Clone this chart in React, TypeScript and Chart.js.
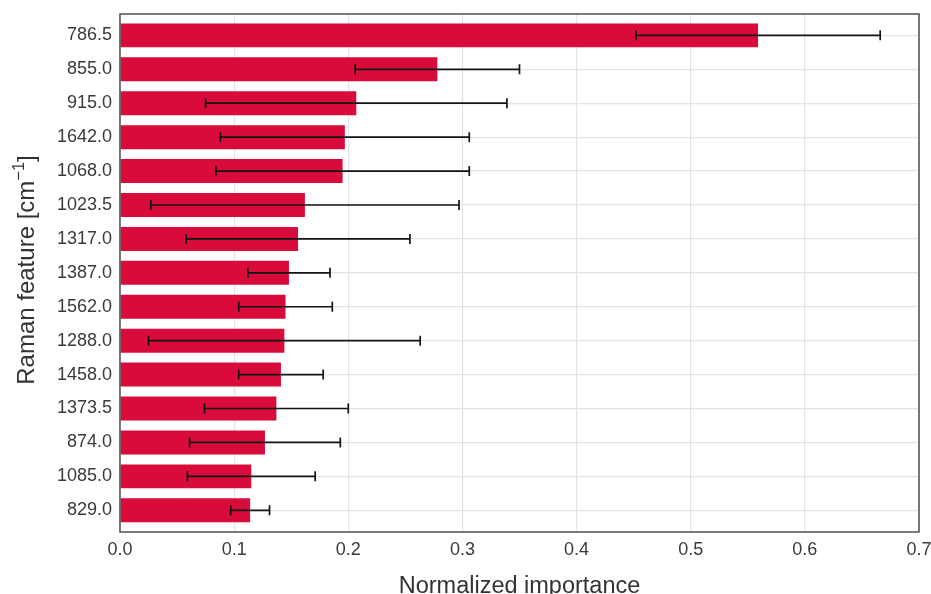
import { useEffect, useRef } from 'react';
import { Chart, registerables } from 'chart.js';

Chart.register(...registerables);

// Raman features ranked by importance (top to bottom)
const features = [
  '786.5', '855.0', '915.0', '1642.0', '1068.0', '1023.5', '1317.0', '1387.0',
  '1562.0', '1288.0', '1458.0', '1373.5', '874.0', '1085.0', '829.0',
];
const importance = [
  0.559, 0.278, 0.207, 0.197, 0.195, 0.162, 0.156, 0.148,
  0.145, 0.144, 0.141, 0.137, 0.127, 0.115, 0.114,
];
// symmetric error (one standard deviation)
const importanceErr = [
  0.107, 0.072, 0.132, 0.109, 0.111, 0.135, 0.098, 0.036,
  0.041, 0.119, 0.037, 0.063, 0.066, 0.056, 0.017,
];
const xTickValues = [0, 0.1, 0.2, 0.3, 0.4, 0.5, 0.6, 0.7];

const WIDTH = 931;
const HEIGHT = 594;
const FONT = '"Liberation Sans", Arial, sans-serif';
const BAR_COLOR = '#d80b3b';
const GRID_COLOR = '#e4e4e4';
const TEXT_COLOR = '#3a3a3a';

const errorBarPlugin = {
  id: 'errorBars',
  afterDatasetsDraw(chart: any) {
    const { ctx, scales } = chart;
    const x = scales.x;
    const y = scales.y;
    ctx.save();
    ctx.strokeStyle = '#141414';
    ctx.lineWidth = 1.7;
    const cap = 5;
    features.forEach((_, i) => {
      const yc = y.getPixelForValue(i);
      const x0 = x.getPixelForValue(importance[i] - importanceErr[i]);
      const x1 = x.getPixelForValue(importance[i] + importanceErr[i]);
      ctx.beginPath();
      ctx.moveTo(x0, yc);
      ctx.lineTo(x1, yc);
      ctx.moveTo(x0, yc - cap);
      ctx.lineTo(x0, yc + cap);
      ctx.moveTo(x1, yc - cap);
      ctx.lineTo(x1, yc + cap);
      ctx.stroke();
    });
    ctx.restore();
  },
};

const framePlugin = {
  id: 'frame',
  afterDraw(chart: any) {
    const { ctx, chartArea } = chart;
    const { left, top, right, bottom } = chartArea;
    ctx.save();
    ctx.strokeStyle = '#505050';
    ctx.lineWidth = 1.5;
    ctx.strokeRect(left, top, right - left, bottom - top);
    ctx.restore();
  },
};

const axisTitlePlugin = {
  id: 'axisTitles',
  afterDraw(chart: any) {
    const { ctx, chartArea } = chart;
    ctx.save();
    ctx.fillStyle = '#333333';
    ctx.textBaseline = 'alphabetic';

    // x title
    ctx.font = `23.5px ${FONT}`;
    ctx.textAlign = 'center';
    ctx.fillText('Normalized importance', (chartArea.left + chartArea.right) / 2, 593);

    // y title with superscript unit exponent
    const head = 'Raman feature [cm';
    const sup = '\u22121';
    const tail = ']';
    const big = `24px ${FONT}`;
    const small = `16.5px ${FONT}`;
    ctx.font = big;
    const wHead = ctx.measureText(head).width;
    const wTail = ctx.measureText(tail).width;
    ctx.font = small;
    const wSup = ctx.measureText(sup).width;
    const total = wHead + wSup + wTail;

    ctx.translate(34, (chartArea.top + chartArea.bottom) / 2 - 3);
    ctx.rotate(-Math.PI / 2);
    ctx.textAlign = 'left';
    let cx = -total / 2;
    ctx.font = big;
    ctx.fillText(head, cx, 0);
    cx += wHead;
    ctx.font = small;
    ctx.fillText(sup, cx, -10);
    cx += wSup;
    ctx.font = big;
    ctx.fillText(tail, cx, 0);
    ctx.restore();
  },
};

export default function App() {
  const canvasRef = useRef<HTMLCanvasElement | null>(null);

  useEffect(() => {
    const canvas = canvasRef.current;
    if (!canvas) return;

    const chart = new Chart(canvas, {
      type: 'bar',
      data: {
        datasets: [
          {
            data: importance.map((v, i) => ({ x: v, y: i })),
            backgroundColor: BAR_COLOR,
            borderWidth: 0,
            barPercentage: 0.707,
            categoryPercentage: 1,
          },
        ],
      },
      options: {
        indexAxis: 'y',
        responsive: false,
        animation: false,
        devicePixelRatio: 1,
        layout: { padding: { top: 14, right: 12, bottom: 0, left: 0 } },
        plugins: {
          legend: { display: false },
          tooltip: { enabled: false },
        },
        scales: {
          x: {
            type: 'linear',
            min: 0,
            max: 0.7,
            offset: false,
            afterBuildTicks: (scale: any) => {
              scale.ticks = xTickValues.map((v) => ({ value: v }));
            },
            afterFit: (scale: any) => {
              scale.height = 62;
              scale.paddingLeft = 0;
              scale.paddingRight = 0;
            },
            ticks: {
              callback: (v: any) => Number(v).toFixed(1),
              font: { family: FONT, size: 18 },
              color: TEXT_COLOR,
              padding: 7,
              maxRotation: 0,
            },
            grid: { color: GRID_COLOR, lineWidth: 1.2, drawTicks: false, offset: false },
            border: { display: false },
          },
          y: {
            type: 'linear',
            reverse: true,
            min: -0.63,
            max: 14.64,
            offset: false,
            afterBuildTicks: (scale: any) => {
              scale.ticks = features.map((_, i) => ({ value: i }));
            },
            afterFit: (scale: any) => {
              scale.width = 120;
              scale.paddingTop = 0;
              scale.paddingBottom = 0;
            },
            ticks: {
              callback: (v: any) => features[Number(v)] ?? '',
              font: { family: FONT, size: 18 },
              color: TEXT_COLOR,
              padding: 8,
            },
            grid: { color: GRID_COLOR, lineWidth: 1.2, drawTicks: false, offset: false },
            border: { display: false },
          },
        },
      },
      plugins: [errorBarPlugin, framePlugin, axisTitlePlugin],
    } as any);

    return () => chart.destroy();
  }, []);

  return (
    <div style={{ position: 'fixed', left: 0, top: 0, width: WIDTH, height: HEIGHT, background: '#ffffff' }}>
      <canvas ref={canvasRef} width={WIDTH} height={HEIGHT} style={{ display: 'block' }} />
    </div>
  );
}
